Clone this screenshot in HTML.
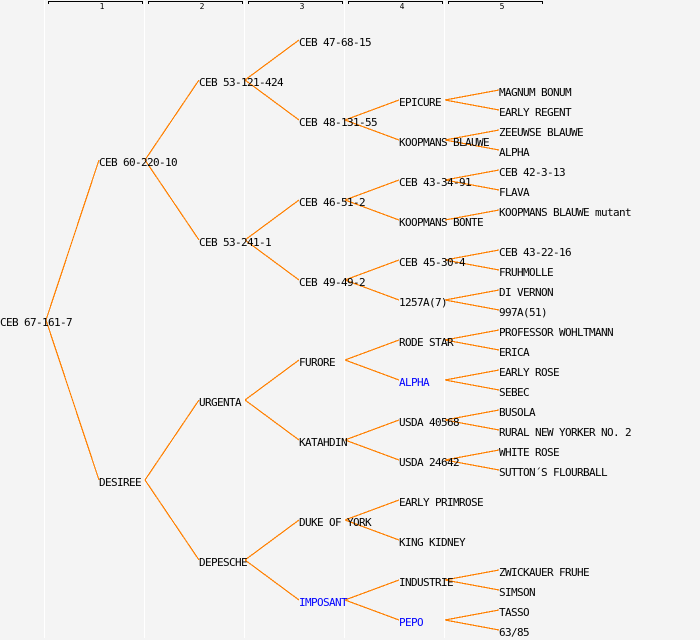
<!DOCTYPE html>
<html><head><meta charset="utf-8"><style>
html,body{margin:0;padding:0;background:#f4f4f4;width:700px;height:640px;overflow:hidden}
svg{display:block}
text{font-family:"DejaVu Sans Mono","Liberation Mono",monospace;font-size:11px;letter-spacing:-.62px;fill:#000}
.b{fill:#0000ff}
.n{font-size:8px;letter-spacing:0;text-anchor:middle}
</style></head><body>
<svg width="700" height="640" viewBox="0 0 700 640" xmlns="http://www.w3.org/2000/svg">
<rect width="700" height="640" fill="#f4f4f4"/>
<path shape-rendering="crispEdges" fill="none" stroke="#fff" stroke-width="1" d="M44.5 0V638M144.5 0V638M244.5 0V638M344.5 0V638M444.5 0V638"/>
<path shape-rendering="crispEdges" fill="none" stroke="#000" stroke-width="1" d="M48.5 4V1.5H142.5V4M148.5 4V1.5H242.5V4M248.5 4V1.5H342.5V4M348.5 4V1.5H442.5V4M448.5 4V1.5H542.5V4"/>
<text class="n" x="102" y="9">1</text><text class="n" x="202" y="9">2</text><text class="n" x="302" y="9">3</text><text class="n" x="402" y="9">4</text><text class="n" x="502" y="9">5</text>
<path shape-rendering="crispEdges" fill="none" stroke="#ff8000" stroke-width="1.2" d="
M46 320L99 160M46 320L99 480
M145 160L199 80M145 160L199 240M145 480L199 400M145 480L199 560
M245 80L299 40M245 80L299 120M245 240L299 200M245 240L299 280M245 400L299 360M245 400L299 440M245 560L299 520M245 560L299 600
M345 120L399 100M345 120L399 140M345 200L399 180M345 200L399 220M345 280L399 260M345 280L399 300M345 360L399 340M345 360L399 380M345 440L399 420M345 440L399 460M345 520L399 500M345 520L399 540M345 600L399 580M345 600L399 620
M445 100L499 90M445 100L499 110M445 140L499 130M445 140L499 150M445 180L499 170M445 180L499 190M445 220L499 210M445 260L499 250M445 260L499 270M445 300L499 290M445 300L499 310M445 340L499 330M445 340L499 350M445 380L499 370M445 380L499 390M445 420L499 410M445 420L499 430M445 460L499 450M445 460L499 470M445 580L499 570M445 580L499 590M445 620L499 610M445 620L499 630"/>
<text x="0" y="326">CEB 67-161-7</text>
<text x="99" y="166">CEB 60-220-10</text>
<text x="99" y="486">DESIREE</text>
<text x="199" y="86">CEB 53-121-424</text>
<text x="199" y="246">CEB 53-241-1</text>
<text x="199" y="406">URGENTA</text>
<text x="199" y="566">DEPESCHE</text>
<text x="299" y="46">CEB 47-68-15</text>
<text x="299" y="126">CEB 48-131-55</text>
<text x="299" y="206">CEB 46-51-2</text>
<text x="299" y="286">CEB 49-49-2</text>
<text x="299" y="366">FURORE</text>
<text x="299" y="446">KATAHDIN</text>
<text x="299" y="526">DUKE OF YORK</text>
<text class="b" x="299" y="606">IMPOSANT</text>
<text x="399" y="106">EPICURE</text>
<text x="399" y="146">KOOPMANS BLAUWE</text>
<text x="399" y="186">CEB 43-34-91</text>
<text x="399" y="226">KOOPMANS BONTE</text>
<text x="399" y="266">CEB 45-30-4</text>
<text x="399" y="306">1257A(7)</text>
<text x="399" y="346">RODE STAR</text>
<text class="b" x="399" y="386">ALPHA</text>
<text x="399" y="426">USDA 40568</text>
<text x="399" y="466">USDA 24642</text>
<text x="399" y="506">EARLY PRIMROSE</text>
<text x="399" y="546">KING KIDNEY</text>
<text x="399" y="586">INDUSTRIE</text>
<text class="b" x="399" y="626">PEPO</text>
<text x="499" y="96">MAGNUM BONUM</text>
<text x="499" y="116">EARLY REGENT</text>
<text x="499" y="136">ZEEUWSE BLAUWE</text>
<text x="499" y="156">ALPHA</text>
<text x="499" y="176">CEB 42-3-13</text>
<text x="499" y="196">FLAVA</text>
<text x="499" y="216">KOOPMANS BLAUWE mutant</text>
<text x="499" y="256">CEB 43-22-16</text>
<text x="499" y="276">FRUHMOLLE</text>
<text x="499" y="296">DI VERNON</text>
<text x="499" y="316">997A(51)</text>
<text x="499" y="336">PROFESSOR WOHLTMANN</text>
<text x="499" y="356">ERICA</text>
<text x="499" y="376">EARLY ROSE</text>
<text x="499" y="396">SEBEC</text>
<text x="499" y="416">BUSOLA</text>
<text x="499" y="436">RURAL NEW YORKER NO. 2</text>
<text x="499" y="456">WHITE ROSE</text>
<text x="499" y="476">SUTTON´S FLOURBALL</text>
<text x="499" y="576">ZWICKAUER FRUHE</text>
<text x="499" y="596">SIMSON</text>
<text x="499" y="616">TASSO</text>
<text x="499" y="636">63/85</text>
</svg>
</body></html>
